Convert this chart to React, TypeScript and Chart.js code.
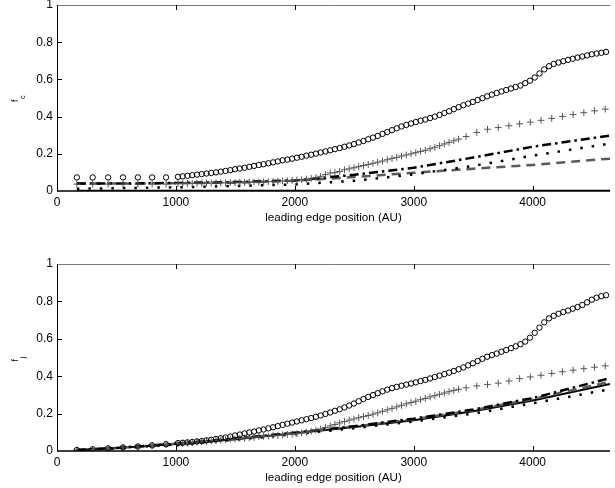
import React, { useEffect, useRef } from 'react';
import { Chart, registerables } from 'chart.js';

Chart.register(...registerables);
Chart.defaults.font.family = '"Liberation Sans", Arial, Helvetica, sans-serif';

// ---------- data ----------
const xTicks = [0, 1000, 2000, 3000, 4000];
const yTicks = [0, 0.2, 0.4, 0.6, 0.8, 1];
const xTitle = 'leading edge position (AU)';

const circleX = [
  167, 300, 430, 555, 680, 800, 917,
  1017, 1057, 1097, 1137, 1177, 1217, 1257, 1297, 1337, 1377,
  1417, 1457, 1497, 1537, 1577, 1617, 1657, 1697, 1737, 1777,
  1817, 1857, 1897, 1937, 1977, 2017, 2057, 2097, 2137, 2177,
  2217, 2257, 2297, 2337, 2377, 2417, 2457, 2497, 2537, 2577,
  2617, 2657, 2697, 2737, 2777, 2817, 2857, 2897, 2937, 2977,
  3017, 3057, 3097, 3137, 3177, 3217, 3257, 3297, 3337, 3377,
  3417, 3457, 3497, 3537, 3577, 3617, 3657, 3697, 3737, 3777,
  3817, 3857, 3897, 3937, 3977, 4017, 4057, 4097, 4137, 4177,
  4217, 4257, 4297, 4337, 4377, 4417, 4457, 4497, 4537, 4577,
  4617,
];
const circleTopY = [
  0.073, 0.073, 0.073, 0.073, 0.073, 0.073, 0.073,
  0.076, 0.079, 0.082, 0.085, 0.088, 0.091, 0.094, 0.097, 0.100, 0.104,
  0.108, 0.112, 0.117, 0.121, 0.125, 0.130, 0.135, 0.140, 0.144, 0.149,
  0.154, 0.159, 0.165, 0.169, 0.174, 0.179, 0.184, 0.190, 0.195, 0.201,
  0.207, 0.213, 0.219, 0.225, 0.231, 0.238, 0.245, 0.252, 0.261, 0.269,
  0.278, 0.287, 0.296, 0.307, 0.317, 0.327, 0.337, 0.347, 0.355, 0.363,
  0.371, 0.378, 0.384, 0.392, 0.400, 0.409, 0.419, 0.429, 0.440, 0.451,
  0.461, 0.470, 0.479, 0.489, 0.499, 0.509, 0.518, 0.527, 0.535, 0.543,
  0.551, 0.559, 0.567, 0.580, 0.593, 0.610, 0.632, 0.654, 0.671, 0.683,
  0.691, 0.698, 0.705, 0.711, 0.717, 0.723, 0.729, 0.735, 0.739, 0.743,
  0.748,
];
const circleBotY = [
  0.005, 0.009, 0.014, 0.019, 0.024, 0.030, 0.036,
  0.042, 0.044, 0.046, 0.048, 0.051, 0.053, 0.057, 0.060, 0.064, 0.068,
  0.072, 0.077, 0.083, 0.088, 0.094, 0.099, 0.104, 0.110, 0.115, 0.121,
  0.127, 0.133, 0.140, 0.146, 0.152, 0.158, 0.164, 0.170, 0.176, 0.183,
  0.190, 0.198, 0.206, 0.215, 0.223, 0.233, 0.243, 0.254, 0.266, 0.278,
  0.289, 0.299, 0.309, 0.319, 0.328, 0.336, 0.343, 0.349, 0.355, 0.361,
  0.367, 0.374, 0.380, 0.388, 0.396, 0.403, 0.411, 0.419, 0.428, 0.437,
  0.447, 0.458, 0.469, 0.481, 0.493, 0.504, 0.513, 0.521, 0.531, 0.540,
  0.550, 0.560, 0.571, 0.585, 0.606, 0.632, 0.660, 0.688, 0.709, 0.723,
  0.734, 0.743, 0.751, 0.761, 0.770, 0.781, 0.795, 0.809, 0.820, 0.828,
  0.833,
];

const plusX = [
  167, 300, 430, 555, 680, 800, 917,
  1017, 1057, 1097, 1137, 1177, 1217, 1257, 1297, 1337, 1377,
  1417, 1457, 1497, 1537, 1577, 1617, 1657, 1697, 1737, 1777,
  1817, 1857, 1897, 1937, 1977, 2017, 2057, 2097, 2137, 2177,
  2217, 2257, 2297, 2337, 2377, 2417, 2457, 2497, 2537, 2577,
  2617, 2657, 2697, 2737, 2777, 2817, 2857, 2897, 2937, 2977,
  3017, 3057, 3097, 3137, 3177, 3217, 3257, 3297, 3337, 3377,
  3440, 3530, 3620, 3710, 3800, 3890, 3980, 4070, 4160, 4250,
  4340, 4430, 4520, 4610,
];
const plusTopY = [
  0.037, 0.037, 0.037, 0.037, 0.037, 0.037, 0.037,
  0.040, 0.041, 0.041, 0.041, 0.042, 0.042, 0.043, 0.043, 0.043, 0.044,
  0.044, 0.045, 0.045, 0.046, 0.046, 0.047, 0.048, 0.048, 0.049, 0.050,
  0.051, 0.052, 0.054, 0.055, 0.057, 0.059, 0.061, 0.064, 0.068, 0.072,
  0.079, 0.088, 0.097, 0.099, 0.105, 0.114, 0.119, 0.125, 0.131, 0.137,
  0.143, 0.149, 0.155, 0.161, 0.168, 0.175, 0.181, 0.188, 0.194, 0.200,
  0.206, 0.213, 0.219, 0.227, 0.235, 0.244, 0.253, 0.261, 0.270, 0.279,
  0.293, 0.315, 0.332, 0.341, 0.351, 0.361, 0.370, 0.380, 0.390, 0.401,
  0.411, 0.421, 0.431, 0.440,
];
const plusBotY = [
  0.005, 0.008, 0.012, 0.017, 0.022, 0.028, 0.034,
  0.039, 0.041, 0.043, 0.045, 0.048, 0.050, 0.052, 0.054, 0.056, 0.058,
  0.061, 0.063, 0.065, 0.067, 0.069, 0.071, 0.073, 0.076, 0.078, 0.080,
  0.082, 0.084, 0.086, 0.089, 0.091, 0.093, 0.097, 0.100, 0.106, 0.112,
  0.118, 0.126, 0.134, 0.142, 0.150, 0.158, 0.165, 0.171, 0.178, 0.184,
  0.190, 0.197, 0.204, 0.212, 0.220, 0.228, 0.236, 0.244, 0.252, 0.259,
  0.266, 0.274, 0.281, 0.289, 0.296, 0.303, 0.310, 0.317, 0.324, 0.330,
  0.338, 0.348, 0.356, 0.363, 0.374, 0.387, 0.396, 0.405, 0.415, 0.424,
  0.432, 0.440, 0.448, 0.455,
];

const lineX = [167, 500, 1000, 1500, 2000, 2500, 3000, 3500, 4000, 4650];
const solidTopY = [0.002, 0.002, 0.002, 0.002, 0.002, 0.002, 0.002, 0.002, 0.002, 0.002];
const dashDotTopY = [0.040, 0.040, 0.043, 0.048, 0.057, 0.087, 0.125, 0.180, 0.238, 0.298];
const dottedTopY = [0.012, 0.015, 0.020, 0.027, 0.035, 0.055, 0.090, 0.135, 0.190, 0.255];
const dashedTopY = [0.040, 0.040, 0.042, 0.045, 0.055, 0.075, 0.098, 0.120, 0.140, 0.174];

const solidBotY = [0.005, 0.016, 0.038, 0.063, 0.095, 0.128, 0.165, 0.212, 0.270, 0.358];
const dashDotBotY = [0.005, 0.016, 0.039, 0.066, 0.098, 0.133, 0.173, 0.222, 0.283, 0.390];
const dottedBotY = [0.004, 0.014, 0.035, 0.060, 0.090, 0.122, 0.158, 0.200, 0.255, 0.330];
const dashedBotY = [0.005, 0.016, 0.039, 0.065, 0.097, 0.131, 0.170, 0.218, 0.278, 0.370];

// ---------- chart helpers ----------
const FONT = '"Liberation Sans", Arial, Helvetica, sans-serif';

const pts = (xs: number[], ys: number[]) => xs.map((x, i) => ({ x, y: ys[i] }));

const framePlugin = {
  id: 'matlabFrame',
  afterDraw(chart: any) {
    const { ctx, chartArea, scales } = chart;
    const { left, right, top, bottom } = chartArea;
    const sub: string = chart.options.plugins.matlabFrame.sub;
    ctx.save();
    // box
    ctx.lineWidth = 1;
    ctx.strokeStyle = '#7a7a7a';
    ctx.beginPath();
    ctx.moveTo(left, top + 0.5);
    ctx.lineTo(right, top + 0.5);
    ctx.stroke();
    ctx.strokeStyle = '#000';
    ctx.beginPath();
    ctx.moveTo(left + 0.5, top);
    ctx.lineTo(left + 0.5, bottom);
    ctx.stroke();
    ctx.lineWidth = 1.5;
    ctx.beginPath();
    ctx.moveTo(left, bottom);
    ctx.lineTo(right, bottom);
    ctx.stroke();
    // inward ticks
    ctx.lineWidth = 1;
    ctx.beginPath();
    yTicks.forEach((v) => {
      if (v === 0 || v === 1) return;
      const py = Math.round(scales.y.getPixelForValue(v)) + 0.5;
      ctx.moveTo(left, py);
      ctx.lineTo(left + 5, py);
    });
    xTicks.forEach((v) => {
      if (v === 0) return;
      const px = Math.round(scales.x.getPixelForValue(v)) + 0.5;
      ctx.moveTo(px, bottom);
      ctx.lineTo(px, bottom - 5);
      ctx.moveTo(px, top);
      ctx.lineTo(px, top + 5);
    });
    ctx.stroke();
    // x title
    ctx.fillStyle = '#000';
    ctx.font = `11.6px ${FONT}`;
    ctx.textAlign = 'center';
    ctx.textBaseline = 'middle';
    ctx.fillText(xTitle, (left + right) / 2, bottom + 26.5);
    // y title f_sub
    ctx.translate(18, (top + bottom) / 2 + 4);
    ctx.rotate(-Math.PI / 2);
    ctx.textAlign = 'left';
    ctx.textBaseline = 'alphabetic';
    ctx.font = `9px ${FONT}`;
    ctx.fillText('f', 0, 0);
    const w = ctx.measureText('f').width;
    ctx.font = `7.5px ${FONT}`;
    ctx.fillText(sub, w + 0.5, 7);
    ctx.restore();
  },
};

function makeConfig(
  circleY: number[],
  plusY: number[],
  solidY: number[],
  dashDotY: number[],
  dottedY: number[],
  dashedY: number[],
  sub: string,
  padTop: number,
  xHeight: number
): any {
  return {
    type: 'scatter',
    data: {
      datasets: [
        {
          data: pts(circleX, circleY),
          showLine: false,
          pointStyle: 'circle',
          pointRadius: 2.7,
          pointBorderWidth: 1,
          pointBorderColor: '#000',
          pointBackgroundColor: 'rgba(0,0,0,0)',
        },
        {
          data: pts(plusX, plusY),
          showLine: false,
          pointStyle: 'cross',
          pointRadius: 3.4,
          pointBorderWidth: 1,
          pointBorderColor: '#555',
          pointBackgroundColor: '#555',
        },
        {
          data: pts(lineX, dashDotY),
          showLine: true,
          pointRadius: 0,
          borderColor: '#000',
          borderWidth: 2.5,
          borderDash: [9, 4, 2.5, 4],
        },
        {
          data: pts(lineX, dottedY),
          showLine: true,
          pointRadius: 0,
          borderColor: '#000',
          borderWidth: 2.5,
          borderDash: [2.5, 9],
        },
        {
          data: pts(lineX, dashedY),
          showLine: true,
          pointRadius: 0,
          borderColor: '#5a5a5a',
          borderWidth: 2.5,
          borderDash: [9, 6],
        },
        {
          data: pts(lineX, solidY),
          showLine: true,
          pointRadius: 0,
          borderColor: '#000',
          borderWidth: 2,
        },
      ],
    },
    options: {
      animation: false,
      responsive: false,
      maintainAspectRatio: false,
      events: [],
      layout: { padding: { top: padTop, left: 0, right: 0, bottom: 0 } },
      plugins: {
        legend: { display: false },
        tooltip: { enabled: false },
        matlabFrame: { sub },
      },
      scales: {
        x: {
          type: 'linear',
          min: 0,
          max: 4650,
          grid: { display: false, drawTicks: false },
          border: { display: false },
          afterBuildTicks: (s: any) => {
            s.ticks = xTicks.map((v) => ({ value: v }));
          },
          ticks: {
            autoSkip: false,
            maxRotation: 0,
            minRotation: 0,
            padding: 4,
            color: '#000',
            font: { size: 12, family: FONT },
            callback: (v: any) => String(v),
          },
          afterFit: (s: any) => {
            s.height = xHeight;
            s.paddingLeft = 0;
            s.paddingRight = 0;
          },
        },
        y: {
          type: 'linear',
          min: 0,
          max: 1,
          grid: { display: false, drawTicks: false },
          border: { display: false },
          afterBuildTicks: (s: any) => {
            s.ticks = yTicks.map((v) => ({ value: v }));
          },
          ticks: {
            autoSkip: false,
            padding: 4,
            color: '#000',
            font: { size: 12, family: FONT },
            callback: (v: any) => String(Number(Number(v).toFixed(1))),
          },
          afterFit: (s: any) => {
            s.width = 57;
            s.paddingTop = 0;
            s.paddingBottom = 0;
          },
        },
      },
    },
    plugins: [framePlugin],
  };
}

export default function App() {
  const topRef = useRef<HTMLCanvasElement>(null);
  const botRef = useRef<HTMLCanvasElement>(null);

  useEffect(() => {
    const c1 = new Chart(
      topRef.current as HTMLCanvasElement,
      makeConfig(circleTopY, plusTopY, solidTopY, dashDotTopY, dottedTopY, dashedTopY, 'c', 5, 53)
    );
    const c2 = new Chart(
      botRef.current as HTMLCanvasElement,
      makeConfig(circleBotY, plusBotY, solidBotY, dashDotBotY, dottedBotY, dashedBotY, 'j', 20, 37)
    );
    return () => {
      c1.destroy();
      c2.destroy();
    };
  }, []);

  return (
    <div style={{ position: 'absolute', left: 0, top: 0, width: 615, height: 488, background: '#fff' }}>
      <canvas
        ref={topRef}
        width={615}
        height={244}
        style={{ position: 'absolute', left: 0, top: 0, width: 615, height: 244 }}
      />
      <canvas
        ref={botRef}
        width={615}
        height={244}
        style={{ position: 'absolute', left: 0, top: 244, width: 615, height: 244 }}
      />
    </div>
  );
}
